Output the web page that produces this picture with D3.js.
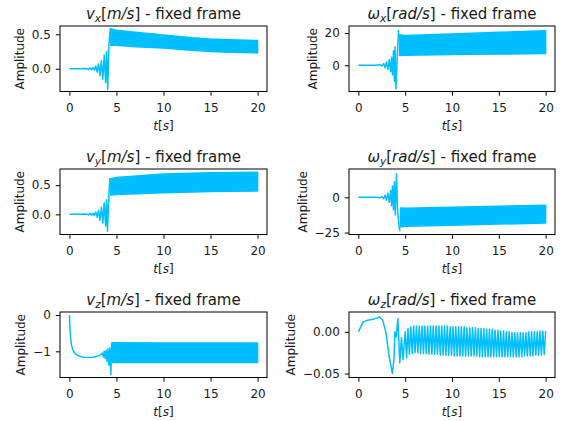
<!DOCTYPE html>
<html>
<head>
<meta charset="utf-8">
<script src="https://cdn.jsdelivr.net/npm/d3@7"></script>
<style>
    body { margin: 0; background: #ffffff; }
    text { font-family: "DejaVu Sans", sans-serif; fill: #1a1a1a; }
</style>
</head>
<body>
<div id="chart"></div>
<script>
// ---- data ----
let timeLimits = [-1, 21];
let timeTicks = [0, 5, 10, 15, 20];

// v_x : start-up transient, then a dense oscillation drawn as its envelope
let vxTrace = [[0, 0], [1, 0], [1.8, 0.004], [2.0, -0.01], [2.2, 0.015], [2.35, -0.015], [2.5, 0.02],
    [2.65, -0.02], [2.8, 0.04], [2.95, -0.05], [3.1, 0.07], [3.25, -0.1], [3.4, 0.12], [3.55, -0.15],
    [3.7, 0.2], [3.85, -0.2], [3.95, 0.25], [4.07, -0.3], [4.2, 0.35], [4.35, 0.59]];
let vxBandT = [4.4, 5, 7, 10, 13, 15, 17, 20];
let vxBandHi = [0.58, 0.56, 0.53, 0.49, 0.45, 0.43, 0.42, 0.41];
let vxBandLo = [0.34, 0.34, 0.32, 0.30, 0.27, 0.25, 0.24, 0.23];

let wxTrace = [[0, 0], [1, 0], [2, 0], [2.3, 0.5], [2.5, -0.5], [2.7, 1], [2.85, -1.5], [3.0, 2],
    [3.15, -2.5], [3.3, 3.5], [3.45, -4], [3.55, 5], [3.65, -6], [3.75, 9], [3.85, -10], [3.92, 11.5],
    [4.02, -14.8], [4.2, 12], [4.3, 22]];
let wxBandT = [4.4, 5, 10, 15, 20];
let wxBandHi = [19, 18.5, 19.5, 20.5, 21.5];
let wxBandLo = [6, 6.3, 6.7, 7, 7.3];

let vyTrace = [[0, 0], [1, 0], [1.8, 0.004], [2.0, -0.01], [2.2, 0.015], [2.35, -0.015], [2.5, 0.02],
    [2.65, -0.02], [2.8, 0.04], [2.95, -0.05], [3.1, 0.07], [3.25, -0.1], [3.4, 0.12], [3.55, -0.15],
    [3.7, 0.2], [3.85, -0.2], [3.95, 0.25], [4.05, -0.29], [4.2, 0.35], [4.3, 0.62]];
let vyBandT = [4.4, 5, 10, 15, 20];
let vyBandHi = [0.61, 0.63, 0.69, 0.71, 0.72];
let vyBandLo = [0.33, 0.34, 0.37, 0.39, 0.40];

let wyTrace = [[0, 0], [1, 0], [2, 0], [2.3, -0.5], [2.5, 0.5], [2.7, -1], [2.85, 1.5], [3.0, -2],
    [3.15, 3], [3.3, -3.5], [3.45, 5], [3.55, -6], [3.65, 8], [3.75, -9], [3.85, 11], [3.95, -12.5],
    [4.07, 16.5], [4.2, -10], [4.35, -21], [4.45, -24]];
let wyBandT = [4.5, 5, 10, 15, 20];
let wyBandHi = [-7.5, -7.8, -7, -6.3, -5.6];
let wyBandLo = [-21, -20.5, -19.8, -19, -18.3];

let vzTrace = [[0, 0], [0.05, -0.3], [0.1, -0.55], [0.2, -0.8], [0.35, -0.95], [0.6, -1.06], [1, -1.13],
    [1.5, -1.16], [2, -1.17], [2.5, -1.16], [2.9, -1.14], [3.2, -1.11], [3.4, -1.08], [3.5, -1.05],
    [3.6, -1.15], [3.7, -1.0], [3.8, -1.2], [3.9, -0.97], [4.0, -1.28], [4.1, -0.93], [4.2, -1.38],
    [4.3, -0.9], [4.4, -1.64], [4.5, -0.76]];
let vzBandT = [4.55, 10, 15, 20];
let vzBandHi = [-0.76, -0.77, -0.77, -0.77];
let vzBandLo = [-1.31, -1.31, -1.31, -1.31];

// omega_z oscillates slowly enough to be read cycle by cycle
let wzTrace = [[0, 0], [0.52, 0.012], [1.0, 0.014], [1.72, 0.0155], [2.25, 0.018], [2.6, 0.014],
    [2.93, 0.0], [3.28, -0.029], [3.63, -0.05], [3.8, -0.033], [3.9, 0.0], [4.05, -0.006],
    [4.22, 0.016], [4.42, -0.037], [4.6, -0.007], [4.77, -0.033], [5.0, 0.0],
    [5.15, -0.031], [5.3, 0.004], [5.45, -0.027], [5.6, 0.006], [5.75, -0.026], [5.9, 0.007],
    [6.05, -0.025], [6.2, 0.007], [6.35, -0.025], [6.5, 0.007], [6.65, -0.026], [6.8, 0.007],
    [6.95, -0.026], [7.1, 0.007], [7.25, -0.026], [7.4, 0.007], [7.55, -0.027], [7.7, 0.007],
    [7.85, -0.027], [8.0, 0.007], [8.15, -0.027], [8.3, 0.007], [8.45, -0.027], [8.6, 0.007],
    [8.75, -0.028], [8.9, 0.007], [9.05, -0.028], [9.2, 0.007], [9.35, -0.028], [9.5, 0.007],
    [9.65, -0.028], [9.8, 0.006], [9.95, -0.028], [10.1, 0.006], [10.25, -0.029], [10.4, 0.006],
    [10.55, -0.029], [10.7, 0.006], [10.85, -0.029], [11.0, 0.006], [11.15, -0.029], [11.3, 0.006],
    [11.45, -0.029], [11.6, 0.005], [11.75, -0.029], [11.9, 0.005], [12.05, -0.029], [12.2, 0.005],
    [12.35, -0.029], [12.5, 0.005], [12.65, -0.029], [12.8, 0.004], [12.95, -0.030], [13.1, 0.004],
    [13.25, -0.030], [13.4, 0.004], [13.55, -0.030], [13.7, 0.003], [13.85, -0.030], [14.0, 0.003],
    [14.15, -0.030], [14.3, 0.003], [14.45, -0.030], [14.6, 0.002], [14.75, -0.030], [14.9, 0.002],
    [15.05, -0.030], [15.2, 0.001], [15.35, -0.030], [15.5, 0.001], [15.65, -0.030], [15.8, 0.0],
    [15.95, -0.030], [16.1, 0.0], [16.25, -0.030], [16.4, -0.001], [16.55, -0.030], [16.7, -0.001],
    [16.85, -0.030], [17.0, -0.001], [17.15, -0.030], [17.3, -0.001], [17.45, -0.030], [17.6, -0.001],
    [17.75, -0.029], [17.9, -0.001], [18.05, -0.029], [18.2, 0.0], [18.35, -0.029], [18.5, 0.0],
    [18.65, -0.029], [18.8, 0.0], [18.95, -0.028], [19.1, 0.0], [19.25, -0.028], [19.4, 0.001],
    [19.55, -0.028], [19.7, 0.001], [19.85, -0.027], [20.0, 0.001]];

// axis limits and ticks per panel
let vxLimits = [-0.33, 0.62], vxTicks = [0.0, 0.5];
let wxLimits = [-16.3, 24.4], wxTicks = [0, 20];
let vyLimits = [-0.345, 0.776], vyTicks = [0.0, 0.5];
let wyLimits = [-26.4, 20.1], wyTicks = [-25, 0];
let vzLimits = [-1.72, 0.083], vzTicks = [-1, 0];
let wzLimits = [-0.0548, 0.0238], wzTicks = [-0.05, 0.0];

function band(t, hi, lo) {
    return t.map((d, i) => ({t: d, hi: hi[i], lo: lo[i]}));
}

let panels = [
    {sym: "v", sub: "x", unit: "m/s", trace: vxTrace, band: band(vxBandT, vxBandHi, vxBandLo), limits: vxLimits, ticks: vxTicks, fmt: ".1f", row: 0, col: 0},
    {sym: "ω", sub: "x", unit: "rad/s", trace: wxTrace, band: band(wxBandT, wxBandHi, wxBandLo), limits: wxLimits, ticks: wxTicks, fmt: "d", row: 0, col: 1},
    {sym: "v", sub: "y", unit: "m/s", trace: vyTrace, band: band(vyBandT, vyBandHi, vyBandLo), limits: vyLimits, ticks: vyTicks, fmt: ".1f", row: 1, col: 0},
    {sym: "ω", sub: "y", unit: "rad/s", trace: wyTrace, band: band(wyBandT, wyBandHi, wyBandLo), limits: wyLimits, ticks: wyTicks, fmt: "d", row: 1, col: 1},
    {sym: "v", sub: "z", unit: "m/s", trace: vzTrace, band: band(vzBandT, vzBandHi, vzBandLo), limits: vzLimits, ticks: vzTicks, fmt: "d", row: 2, col: 0},
    {sym: "ω", sub: "z", unit: "rad/s", trace: wzTrace, band: [], limits: wzLimits, ticks: wzTicks, fmt: ".2f", row: 2, col: 1}
];

// ---- layout ----
let colX = [60, 349], colW = [207, 206];
let rowY = [26, 169, 312], rowH = 65.5;
let lineColor = "#00bfff";

let svg = d3.select("#chart").append("svg")
    .attr("width", 563)
    .attr("height", 421);

function Panel(svg, cfg, idx) {
    let vis = this;
    vis.svg = svg;
    vis.cfg = cfg;
    vis.idx = idx;
    vis.left = colX[cfg.col];
    vis.top = rowY[cfg.row];
    vis.width = colW[cfg.col];
    vis.height = rowH;
    vis.initVis();
}

Panel.prototype.initVis = function() {
    let vis = this;

    vis.g = vis.svg.append("g")
        .attr("transform", "translate(" + vis.left + "," + vis.top + ")");

    vis.x = d3.scaleLinear().domain(timeLimits).range([0, vis.width]);
    vis.y = d3.scaleLinear().domain(vis.cfg.limits).range([vis.height, 0]);

    vis.g.append("clipPath")
        .attr("id", "clip" + vis.idx)
        .append("rect")
        .attr("width", vis.width)
        .attr("height", vis.height);

    let minus = s => s.replace("-", "\u2212");

    vis.xAxis = d3.axisBottom(vis.x)
        .tickValues(timeTicks)
        .tickSize(4.2)
        .tickPadding(8)
        .tickFormat(d3.format("d"));
    vis.yAxis = d3.axisLeft(vis.y)
        .tickValues(vis.cfg.ticks)
        .tickSize(4.2)
        .tickPadding(5)
        .tickFormat(d => minus(d3.format(vis.cfg.fmt)(d)));

    vis.xg = vis.g.append("g")
        .attr("transform", "translate(0," + vis.height + ")")
        .call(vis.xAxis);
    vis.yg = vis.g.append("g")
        .call(vis.yAxis);

    [vis.xg, vis.yg].forEach(function(a) {
        a.select(".domain").remove();
        a.selectAll("line").attr("stroke", "#000").attr("stroke-width", 1);
        a.selectAll("text")
            .attr("font-family", "DejaVu Sans")
            .attr("font-size", 12)
            .attr("fill", "#1a1a1a");
    });

    vis.updateVis();
};

Panel.prototype.updateVis = function() {
    let vis = this;
    let plot = vis.g.append("g").attr("clip-path", "url(#clip" + vis.idx + ")");

    if (vis.cfg.band.length) {
        let area = d3.area()
            .x(d => vis.x(d.t))
            .y0(d => vis.y(d.lo))
            .y1(d => vis.y(d.hi));
        plot.append("path")
            .datum(vis.cfg.band)
            .attr("d", area)
            .attr("fill", lineColor)
            .attr("stroke", lineColor)
            .attr("stroke-width", 1.5)
            .attr("stroke-linejoin", "round");
    }

    let line = d3.line()
        .x(d => vis.x(d[0]))
        .y(d => vis.y(d[1]));
    plot.append("path")
        .datum(vis.cfg.trace)
        .attr("d", line)
        .attr("fill", "none")
        .attr("stroke", lineColor)
        .attr("stroke-width", 1.5)
        .attr("stroke-linejoin", "round");

    // frame
    vis.g.append("rect")
        .attr("width", vis.width)
        .attr("height", vis.height)
        .attr("fill", "none")
        .attr("stroke", "#000")
        .attr("stroke-width", 1);

    // title
    let title = vis.g.append("text")
        .attr("x", vis.width / 2)
        .attr("y", -7)
        .attr("text-anchor", "middle")
        .attr("font-size", 15);
    title.append("tspan").attr("font-style", "italic").text(vis.cfg.sym);
    title.append("tspan").attr("font-style", "italic").attr("font-size", 10.5).attr("dy", 3).text(vis.cfg.sub);
    title.append("tspan").attr("dy", -3).text("[");
    title.append("tspan").attr("font-style", "italic").text(vis.cfg.unit);
    title.append("tspan").text("] - fixed frame");

    // x label
    let xl = vis.g.append("text")
        .attr("x", vis.width / 2)
        .attr("y", vis.height + 38)
        .attr("text-anchor", "middle")
        .attr("font-size", 12);
    xl.append("tspan").attr("font-style", "italic").text("t");
    xl.append("tspan").text("[");
    xl.append("tspan").attr("font-style", "italic").text("s");
    xl.append("tspan").text("]");

    // y label, placed left of the tick labels
    let bb = vis.yg.node().getBBox();
    vis.g.append("text")
        .attr("transform", "translate(" + (bb.x - 7.6) + "," + (vis.height / 2) + ") rotate(-90)")
        .attr("text-anchor", "middle")
        .attr("font-size", 12)
        .text("Amplitude");
};

panels.forEach((p, i) => new Panel(svg, p, i));
</script>
</body>
</html>
